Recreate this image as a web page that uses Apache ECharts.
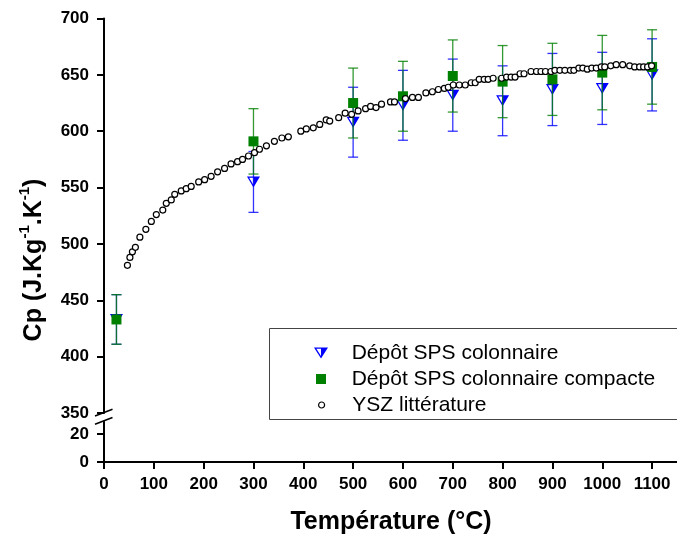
<!DOCTYPE html>
<html>
<head>
<meta charset="utf-8">
<script src="https://cdn.jsdelivr.net/npm/echarts@6/dist/echarts.min.js"></script>
<style>
  html, body { margin: 0; padding: 0; background: #fff; }
  #chart { width: 677px; height: 540px; }
</style>
</head>
<body>
<div id="chart"></div>
<script>
// mesures (points expérimentaux)
const tempExp = [25, 300, 500, 600, 700, 800, 900, 1000, 1100];
const cpColonnaire = [433, 555, 608, 623, 632, 627, 637, 638, 650];
const errColonnaire = [22, 27, 31, 31, 32, 31, 32, 32, 32];
const cpCompacte = [433, 591, 625, 631, 649, 644, 646, 652, 657];
const errCompacte = [22, 29, 31, 31, 32, 32, 32, 33, 33];

// YSZ littérature
const tempLit = [47, 52, 57, 63, 72, 84, 95, 105, 118, 125, 135, 142, 155, 165, 175, 190, 202, 215, 228, 242,
  255, 268, 278, 290, 302, 312, 326, 342, 357, 370, 395, 406, 420, 433, 446, 453, 471, 484, 497, 510,
  525, 535, 546, 557, 575, 583, 605, 619, 631, 646, 659, 671, 683, 691, 701, 713, 725, 737, 745, 753,
  763, 771, 781, 798, 808, 817, 825, 835, 843, 857, 868, 877, 886, 897, 905, 915, 925, 936, 943, 953,
  961, 970, 979, 988, 998, 1005, 1017, 1028, 1041, 1055, 1065, 1075, 1083, 1091, 1099];
const cpLit = [481, 488, 493, 497, 506, 513, 520, 526, 530, 536, 539, 544, 547, 549, 551, 555, 557, 560, 564, 567,
  571, 573, 575, 578, 581, 584, 587, 591, 594, 595, 600, 602, 603, 606, 610, 609, 612, 616, 615, 618,
  620, 622, 621, 624, 626, 626, 629, 630, 630, 634, 635, 637, 638, 639, 641, 641, 641, 643, 643, 646,
  646, 646, 647, 647, 648, 648, 648, 651, 651, 653, 653, 653, 653, 653, 654, 654, 654, 654, 654, 656,
  656, 655, 656, 656, 657, 657, 658, 659, 659, 658, 657, 657, 657, 657, 658];

// graduations
const xTicks = [0, 100, 200, 300, 400, 500, 600, 700, 800, 900, 1000, 1100];
const yTicksLow = [0, 20];

const names = ['Dépôt SPS colonnaire', 'Dépôt SPS colonnaire compacte', 'YSZ littérature'];
const FONT = 'Arial, "Liberation Sans", sans-serif';

// triangle renversé à moitié plein (gauche creux, droite plein)
const halfTri = 'path://M0,0 L140,0 L70,110 Z M23.7,13 L70,85.8 L116.3,13 Z M70,0 L140,0 L70,110 Z';

const chart = echarts.init(document.getElementById('chart'));

function errRender(color) {
  return function (params, api) {
    const x = api.value(0);
    const lo = api.coord([x, api.value(1)]);
    const hi = api.coord([x, api.value(2)]);
    const w = 5;
    const style = { stroke: color, lineWidth: 1.3, opacity: 0.8 };
    return {
      type: 'group',
      children: [
        { type: 'line', shape: { x1: lo[0], y1: lo[1], x2: hi[0], y2: hi[1] }, style: style },
        { type: 'line', shape: { x1: lo[0] - w, y1: lo[1], x2: lo[0] + w, y2: lo[1] }, style: style },
        { type: 'line', shape: { x1: hi[0] - w, y1: hi[1], x2: hi[0] + w, y2: hi[1] }, style: style }
      ]
    };
  };
}

const axisLine = { show: true, lineStyle: { color: '#000', width: 2 } };
const axisTick = { show: true, length: 7, lineStyle: { color: '#000', width: 2 } };
const axisLabel = { color: '#000', fontSize: 17, fontWeight: 'bold', fontFamily: FONT, formatter: v => String(v) };

// icône centrée en x=321, texte commençant en x≈352
function legendFor(name, top, w, h, extra) {
  return Object.assign({
    data: [name], orient: 'vertical', left: 321 - w / 2, top: top, padding: 0,
    itemWidth: w, itemHeight: h, selectedMode: false,
    textStyle: { fontSize: 21, lineHeight: 21, color: '#000', fontFamily: FONT, padding: [0, 0, 0, 25.7 - w / 2] }
  }, extra || {});
}

const option = {
  backgroundColor: '#fff',
  animation: false,
  grid: [
    { left: 104, top: 18.5, width: 576, height: 394.5 },
    { left: 104, top: 421.4, width: 576, height: 40.6 }
  ],
  xAxis: [
    { type: 'value', gridIndex: 0, min: 0, max: 1150, interval: 100, show: false, splitLine: { show: false } },
    {
      type: 'value', gridIndex: 1, min: 0, max: 1150, interval: 100,
      axisLine: axisLine,
      axisTick: Object.assign({ customValues: xTicks }, axisTick),
      axisLabel: Object.assign({ customValues: xTicks, margin: 14 }, axisLabel),
      splitLine: { show: false }
    }
  ],
  yAxis: [
    {
      type: 'value', gridIndex: 0, min: 350, max: 700, interval: 50,
      axisLine: axisLine, axisTick: axisTick,
      axisLabel: Object.assign({ margin: 15 }, axisLabel),
      splitLine: { show: false }
    },
    {
      type: 'value', gridIndex: 1, min: 0, max: 29,
      axisLine: axisLine,
      axisTick: Object.assign({ customValues: yTicksLow }, axisTick),
      axisLabel: Object.assign({ customValues: yTicksLow, margin: 15 }, axisLabel),
      splitLine: { show: false }
    }
  ],
  legend: [
    legendFor(names[0], 342.5, 14, 11),
    legendFor(names[1], 368.5, 10, 10),
    legendFor(names[2], 394.5, 6, 6, { itemStyle: { borderWidth: 1.2 } })
  ],
  graphic: [
    { type: 'rect', shape: { x: 269.5, y: 328.5, width: 420, height: 91 },
      style: { fill: 'none', stroke: '#444', lineWidth: 1 }, z: 1 },
    { type: 'line', shape: { x1: 95, y1: 416, x2: 112.5, y2: 409.3 }, style: { stroke: '#000', lineWidth: 1.5 } },
    { type: 'line', shape: { x1: 95, y1: 424.3, x2: 112.5, y2: 417.5 }, style: { stroke: '#000', lineWidth: 1.5 } },
    { type: 'text', x: 32, y: 260, rotation: Math.PI / 2,
      style: {
        text: '{a|Cp (J.Kg}{s|-1}{a|.K}{s|-1}{a|)}',
        align: 'center', verticalAlign: 'middle',
        rich: {
          a: { fontSize: 25, fontWeight: 'bold', fontFamily: FONT, fill: '#000', lineHeight: 29, verticalAlign: 'bottom' },
          s: { fontSize: 15, fontWeight: 'bold', fontFamily: FONT, fill: '#000', lineHeight: 29, verticalAlign: 'top' }
        }
      } },
    { type: 'text', x: 391, y: 522,
      style: { text: 'Température (°C)', fontSize: 25, fontWeight: 'bold', fontFamily: FONT, fill: '#000',
        align: 'center', verticalAlign: 'middle' } }
  ],
  series: [
    {
      name: 'errColonnaire', type: 'custom', xAxisIndex: 0, yAxisIndex: 0, z: 2,
      renderItem: errRender('#0000ff'), encode: { x: 0, y: [1, 2] },
      data: tempExp.map((t, i) => [t, cpColonnaire[i] - errColonnaire[i], cpColonnaire[i] + errColonnaire[i]])
    },
    {
      name: names[0], type: 'scatter', xAxisIndex: 0, yAxisIndex: 0, z: 3,
      symbol: halfTri, symbolSize: [13, 11],
      itemStyle: { color: '#0000ff', borderWidth: 0, opacity: 1 },
      data: tempExp.map((t, i) => [t, cpColonnaire[i]])
    },
    {
      name: 'errCompacte', type: 'custom', xAxisIndex: 0, yAxisIndex: 0, z: 4,
      renderItem: errRender('#008000'), encode: { x: 0, y: [1, 2] },
      data: tempExp.map((t, i) => [t, cpCompacte[i] - errCompacte[i], cpCompacte[i] + errCompacte[i]])
    },
    {
      name: names[1], type: 'scatter', xAxisIndex: 0, yAxisIndex: 0, z: 5,
      symbol: 'rect', symbolSize: 10,
      itemStyle: { color: '#008000', opacity: 1 },
      data: tempExp.map((t, i) => [t, cpCompacte[i]])
    },
    {
      name: names[2], type: 'scatter', xAxisIndex: 0, yAxisIndex: 0, z: 6,
      symbol: 'circle', symbolSize: 6,
      itemStyle: { color: '#fff', borderColor: '#000', borderWidth: 1.2, opacity: 1 },
      data: tempLit.map((t, i) => [t, cpLit[i]])
    }
  ]
};

chart.setOption(option);
</script>
</body>
</html>
